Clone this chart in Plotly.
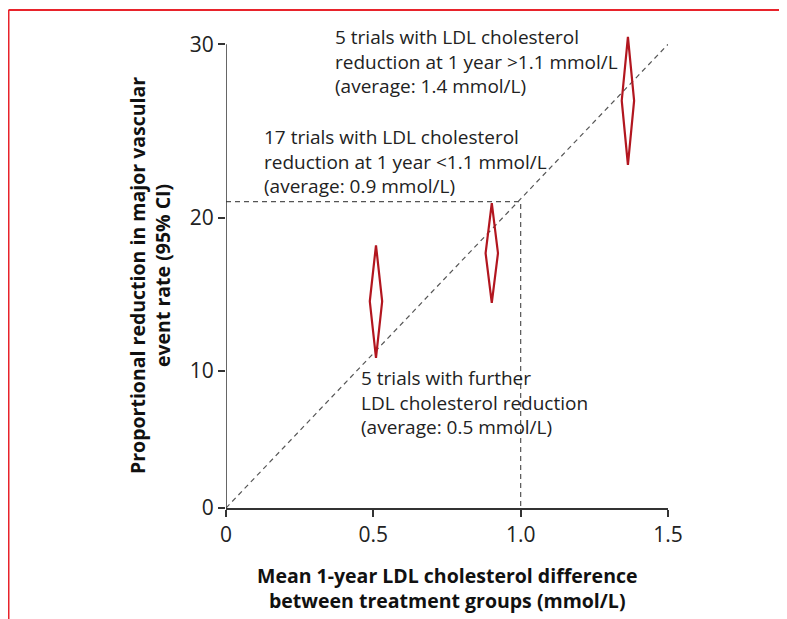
import math
import plotly.graph_objects as go

# ---- data ----
ldl_diff = [0.509, 0.902, 1.364]          # mean 1-year LDL difference (mmol/L)
reduction_mid = [14.7, 17.8, 26.9]         # proportional reduction (%)
reduction_lo = [10.9, 14.6, 23.2]
reduction_hi = [18.3, 20.9, 30.4]
y_ticks = [0, 10, 20, 30]
x_ticks = [0, 0.5, 1.0, 1.5]
x_tick_labels = ["0", "0.5", "1.0", "1.5"]
ref_line_x = [0, 1.5]
ref_line_y = [0, 30]
guide_x = 1.0
guide_y = 21.0

def T(r):
    # log risk scale: proportional reduction r% -> -ln(1 - r/100)
    return -math.log(1 - r / 100.0)

W, H = 787, 619
OFF = 8  # page body margin
L, R, TOP, B = 218, 127, 6, 119
ymax = 0.38
plot_w = W - L - R
plot_h = H - TOP - B

def px_to_paper_x(px):
    return (px - OFF - L) / plot_w

def px_to_paper_y(py):
    return (H - B - (py - OFF)) / plot_h

fig = go.Figure()

red = "#b2161f"
dash_col = "#555555"

# diagonal reference line
fig.add_trace(go.Scatter(
    x=ref_line_x, y=[T(v) for v in ref_line_y], mode="lines",
    line=dict(color=dash_col, width=1.2, dash="5px,4px"), hoverinfo="skip"))
# guide lines at 1.0 mmol/L
fig.add_trace(go.Scatter(
    x=[0, guide_x, guide_x], y=[T(guide_y), T(guide_y), 0], mode="lines",
    line=dict(color=dash_col, width=1.2, dash="5px,4px"), hoverinfo="skip"))

hw = 0.021
for x, m, lo, hi in zip(ldl_diff, reduction_mid, reduction_lo, reduction_hi):
    fig.add_trace(go.Scatter(
        x=[x, x + hw, x, x - hw, x],
        y=[T(lo), T(m), T(hi), T(m), T(lo)],
        mode="lines", line=dict(color=red, width=2.2), hoverinfo="skip"))

# y axis line (drawn to 30 only)
fig.add_shape(type="line", xref="x", yref="y", x0=0, x1=0, y0=0, y1=T(30),
              line=dict(color="#333333", width=1.5))

# red border (top and left)
border = "#e8232b"
fig.add_shape(type="line", xref="paper", yref="paper",
              x0=px_to_paper_x(8.5), x1=px_to_paper_x(W + 20),
              y0=px_to_paper_y(10), y1=px_to_paper_y(10),
              line=dict(color=border, width=2))
fig.add_shape(type="line", xref="paper", yref="paper",
              x0=px_to_paper_x(8.5), x1=px_to_paper_x(8.5),
              y0=px_to_paper_y(10), y1=px_to_paper_y(H + 20),
              line=dict(color=border, width=2))

font_txt = dict(family="Open Sans", size=19, color="#222222")
notes = [
    ("5 trials with LDL cholesterol<br>reduction at 1 year >1.1 mmol/L<br>(average: 1.4 mmol/L)", 333, 22),
    ("17 trials with LDL cholesterol<br>reduction at 1 year <1.1 mmol/L<br>(average: 0.9 mmol/L)", 262, 122),
    ("5 trials with further<br>LDL cholesterol reduction<br>(average: 0.5 mmol/L)", 359, 363),
]
for txt, px, py in notes:
    fig.add_annotation(text=txt, xref="paper", yref="paper",
                       x=px_to_paper_x(px), y=px_to_paper_y(py),
                       xanchor="left", yanchor="top", align="left",
                       showarrow=False, font=font_txt)

title_font = dict(family="Open Sans", size=19.5, color="#111111")
fig.add_annotation(text="<b>Proportional reduction in major vascular<br>event rate (95% CI)</b>",
                   xref="paper", yref="paper", x=px_to_paper_x(150), y=px_to_paper_y(276),
                   xanchor="center", yanchor="middle", textangle=-90,
                   showarrow=False, font=title_font)
fig.add_annotation(text="<b>Mean 1-year LDL cholesterol difference<br>between treatment groups (mmol/L)</b>",
                   xref="paper", yref="paper", x=px_to_paper_x(447), y=px_to_paper_y(588),
                   xanchor="center", yanchor="middle",
                   showarrow=False, font=title_font)

fig.update_layout(
    width=W, height=H, margin=dict(l=L, r=R, t=TOP, b=B),
    paper_bgcolor="white", plot_bgcolor="white", showlegend=False,
    xaxis=dict(range=[0, 1.5], tickvals=x_ticks, ticktext=x_tick_labels,
               showgrid=False, zeroline=False, showline=True, linecolor="#333333",
               linewidth=1.5, ticks="outside", ticklen=7, tickwidth=1.5, tickcolor="#333333",
               tickfont=dict(family="Open Sans", size=21, color="#222222")),
    yaxis=dict(range=[0, ymax], tickvals=[T(v) for v in y_ticks],
               ticktext=[str(v) for v in y_ticks],
               showgrid=False, zeroline=False, showline=False,
               ticks="outside", ticklen=7, tickwidth=1.5, tickcolor="#333333",
               tickfont=dict(family="Open Sans", size=21, color="#222222")),
)

fig.write_html("out.html")
